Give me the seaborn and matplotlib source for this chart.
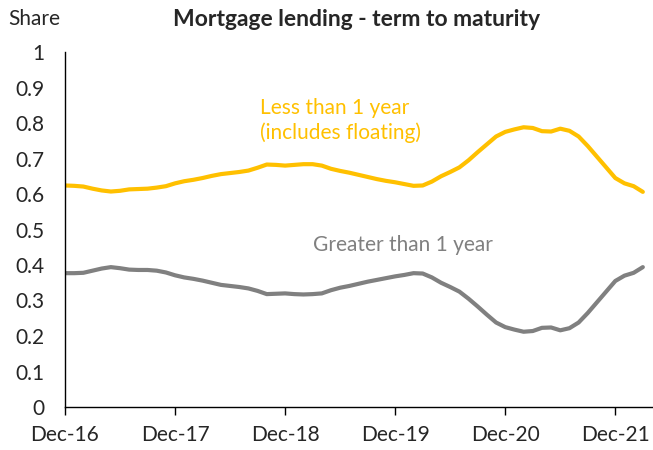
import numpy as np
import pandas as pd
import matplotlib
matplotlib.use("Agg")
import matplotlib.pyplot as plt
import seaborn as sns

# Monthly shares, Dec-16 onwards
less_than_1y = [0.624, 0.623, 0.621, 0.615, 0.610, 0.607, 0.609, 0.613, 0.614, 0.615,
                0.618, 0.622, 0.630, 0.636, 0.640, 0.645, 0.651, 0.656, 0.659, 0.662,
                0.666, 0.674, 0.683, 0.682, 0.680, 0.682, 0.684, 0.684, 0.680, 0.671,
                0.665, 0.660, 0.654, 0.648, 0.642, 0.637, 0.633, 0.628, 0.623, 0.624,
                0.635, 0.650, 0.662, 0.675, 0.695, 0.718, 0.740, 0.762, 0.775, 0.782,
                0.788, 0.786, 0.777, 0.776, 0.784, 0.778, 0.762, 0.735, 0.705, 0.675,
                0.645, 0.630, 0.622, 0.606]
greater_than_1y = [0.377, 0.377, 0.378, 0.384, 0.390, 0.394, 0.391, 0.387, 0.386, 0.386,
                   0.384, 0.379, 0.371, 0.365, 0.361, 0.356, 0.350, 0.344, 0.341, 0.338,
                   0.334, 0.327, 0.318, 0.319, 0.320, 0.318, 0.317, 0.318, 0.320, 0.329,
                   0.336, 0.341, 0.347, 0.353, 0.358, 0.363, 0.368, 0.372, 0.377, 0.376,
                   0.365, 0.350, 0.338, 0.325, 0.305, 0.283, 0.260, 0.238, 0.225, 0.218,
                   0.212, 0.214, 0.223, 0.224, 0.216, 0.222, 0.238, 0.265, 0.295, 0.325,
                   0.355, 0.370, 0.378, 0.394]
tick_labels = ["Dec-16", "Dec-17", "Dec-18", "Dec-19", "Dec-20", "Dec-21"]
series_names = ["Less than 1 year\n(includes floating)", "Greater than 1 year"]

months = np.arange(len(less_than_1y))
df = pd.DataFrame({
    "month": np.concatenate([months, months]),
    "share": less_than_1y + greater_than_1y,
    "series": [series_names[0]] * len(months) + [series_names[1]] * len(months),
})

sns.set_style("white")
plt.rcParams["font.family"] = ["Lato", "DejaVu Sans"]

gold = "#FFC000"
grey = "#808080"

fig = plt.figure(figsize=(6.53, 4.5), dpi=100)
ax = fig.add_axes([65 / 653, 43 / 450, 587 / 653, 355 / 450])

sns.lineplot(data=df, x="month", y="share", hue="series",
             palette={series_names[0]: gold, series_names[1]: grey},
             linewidth=3.0, legend=False, ax=ax)

ax.set_xlim(0, 64)
ax.set_ylim(0, 1)
ax.set_xticks(np.arange(0, 61, 12))
ax.set_xticklabels(tick_labels, fontsize=15)
ax.set_yticks(np.round(np.arange(0, 1.01, 0.1), 1))
ax.set_yticklabels(["0"] + [f"{v:.1f}" for v in np.arange(0.1, 0.95, 0.1)] + ["1"], fontsize=15)
ax.set_xlabel("")
ax.set_ylabel("")

for s in ["top", "right"]:
    ax.spines[s].set_visible(False)
for s in ["left", "bottom"]:
    ax.spines[s].set_color("black")
    ax.spines[s].set_linewidth(1.0)

ax.tick_params(axis="x", which="major", direction="out", length=6, width=1,
               color="black", bottom=True, pad=7)
ax.tick_params(axis="y", length=0, pad=15)

ax.text(21.3, 0.808, series_names[0], color=gold, fontsize=15,
        ha="left", va="center", linespacing=1.25, multialignment="left")
ax.text(27.0, 0.456, series_names[1], color=grey, fontsize=15,
        ha="left", va="center")

fig.text(357 / 653, 1 - 19 / 450, "Mortgage lending - term to maturity",
         ha="center", va="center", fontsize=16.5, fontweight="bold")
fig.text(8 / 653, 1 - 19 / 450, "Share", ha="left", va="center", fontsize=15)

fig.savefig("out.png", dpi=100)
